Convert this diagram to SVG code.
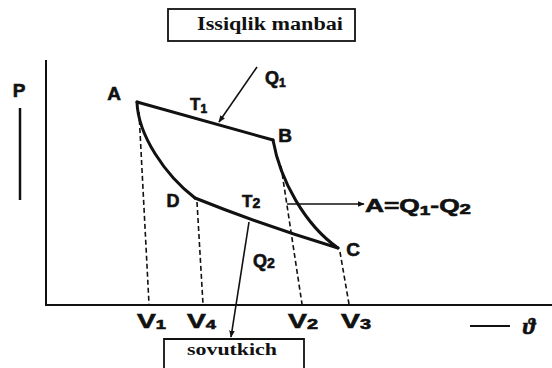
<svg xmlns="http://www.w3.org/2000/svg" width="552" height="368" viewBox="0 0 552 368">
<defs>
<style>
.lbl{font-family:"Liberation Sans",Arial,sans-serif;font-weight:bold;fill:#111;stroke:#111;stroke-width:0.6;}
.box{font-family:"Liberation Serif","Times New Roman",serif;font-weight:bold;fill:#111;}
.cyc{fill:none;stroke:#111;stroke-width:3;stroke-linejoin:round;stroke-linecap:round;}
.dash{fill:none;stroke:#111;stroke-width:1.6;stroke-dasharray:5 3;}
.ax{fill:none;stroke:#111;stroke-width:2;}
.arr{fill:none;stroke:#111;stroke-width:1.6;marker-end:url(#ah);}
.frame{fill:none;stroke:#111;stroke-width:1.8;}
</style>
<marker id="ah" viewBox="0 0 10 10" refX="9" refY="5" markerWidth="7" markerHeight="7" orient="auto" markerUnits="userSpaceOnUse">
<path d="M0,1 L10,5 L0,9 Z" fill="#111"/>
</marker>
</defs>
<rect width="552" height="368" fill="#fff"/>

<g id="source">
<rect class="frame" x="168" y="9" width="187" height="32"/>
<text class="box" x="270" y="30" font-size="18" text-anchor="middle" textLength="146" lengthAdjust="spacingAndGlyphs">Issiqlik manbai</text>
</g>

<g id="sink">
<path class="frame" d="M164,368 L164,339 L304,339 L304,368"/>
<text class="box" x="232" y="355" font-size="17" text-anchor="middle" textLength="90" lengthAdjust="spacingAndGlyphs">sovutkich</text>
</g>

<g id="axes">
<path class="ax" d="M46,60 L46,305 L552,305"/>
<line x1="20" y1="108" x2="20" y2="200" stroke="#111" stroke-width="2.5"/>
<text class="lbl" x="19" y="97" font-size="19" text-anchor="middle">P</text>
<line x1="470" y1="326" x2="510" y2="326" stroke="#111" stroke-width="2"/>
<text x="529" y="334" font-family="'Liberation Serif',serif" font-weight="bold" font-style="italic" font-size="24" text-anchor="middle" fill="#111" stroke="#111" stroke-width="0.5">ϑ</text>
</g>

<g id="cycle">
<path class="cyc" d="M137,102 L273,140"/>
<path class="cyc" d="M273,140 C280,180 305,225 338,248"/>
<path class="cyc" d="M195,198 Q262,225 338,248"/>
<path class="cyc" d="M137,102 C138,135 165,175 195,198"/>
</g>

<g id="connectors">
<path class="dash" d="M139,112 L149,304"/>
<path class="dash" d="M197,202 L203,304"/>
<path class="dash" d="M281,166 L302,304"/>
<path class="dash" d="M340,252 L349,304"/>
<path class="arr" d="M257,67 L219,122"/>
<path class="arr" d="M249,222 L231,337"/>
<path class="arr" d="M287,204 L364,204"/>
</g>

<g id="labels">
<text class="lbl" x="114" y="100" font-size="19" text-anchor="middle">A</text>
<text class="lbl" x="285" y="142" font-size="19" text-anchor="middle">B</text>
<text class="lbl" x="353" y="256" font-size="19" text-anchor="middle">C</text>
<text class="lbl" x="173" y="207" font-size="18" text-anchor="middle">D</text>
<text class="lbl" x="190" y="110" font-size="17">T<tspan font-size="12" dy="3">1</tspan></text>
<text class="lbl" x="242" y="207" font-size="17">T<tspan font-size="14" dy="1">2</tspan></text>
<text class="lbl" x="265" y="84" font-size="18">Q<tspan font-size="12" dy="3">1</tspan></text>
<text class="lbl" x="253" y="267" font-size="18">Q<tspan font-size="14" dy="1">2</tspan></text>
<text class="lbl" x="365" y="212" font-size="18" textLength="106" lengthAdjust="spacingAndGlyphs">A=Q<tspan font-size="13" dy="3">1</tspan><tspan dy="-3">-Q</tspan><tspan font-size="14" dy="2">2</tspan></text>
<text class="lbl" x="137" y="328" font-size="20" textLength="29" lengthAdjust="spacingAndGlyphs">V<tspan font-size="13" dy="1">1</tspan></text>
<text class="lbl" x="187" y="328" font-size="20" textLength="29" lengthAdjust="spacingAndGlyphs">V<tspan font-size="13" dy="1">4</tspan></text>
<text class="lbl" x="288" y="328" font-size="20" textLength="30" lengthAdjust="spacingAndGlyphs">V<tspan font-size="14" dy="1">2</tspan></text>
<text class="lbl" x="341" y="328" font-size="20" textLength="30" lengthAdjust="spacingAndGlyphs">V<tspan font-size="14" dy="1">3</tspan></text>
</g>
</svg>
